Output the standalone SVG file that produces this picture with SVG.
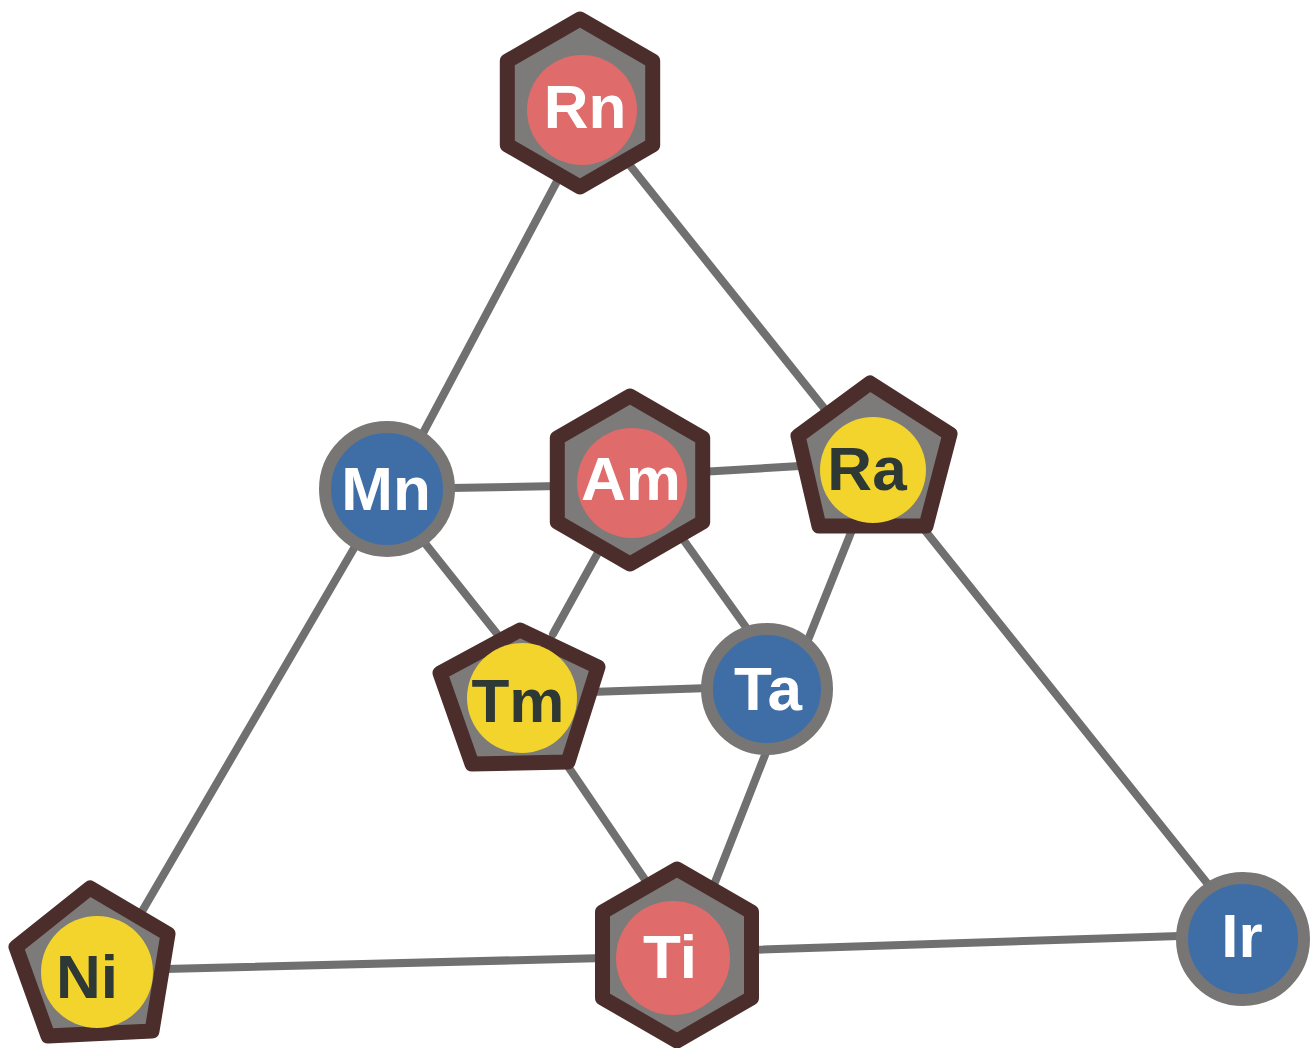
<svg xmlns="http://www.w3.org/2000/svg" width="1311" height="1048" viewBox="0 0 1311 1048">
<style>
.edge{stroke:#707070;stroke-width:8;stroke-linecap:round;fill:none}
.frame{fill:#7c7b79;stroke:#4b2e2b;stroke-width:15;stroke-linejoin:round}
.red{fill:#e06b6b}
.blue{fill:#3f6ea6}
.yellow{fill:#f3d42c}
.ring{stroke:#777674;stroke-width:12}
.lw{font-family:"Liberation Sans",Arial,sans-serif;font-weight:bold;font-size:62px;fill:#ffffff;text-anchor:middle}
.ld{font-family:"Liberation Sans",Arial,sans-serif;font-weight:bold;font-size:62px;fill:#2e3835;text-anchor:middle}
</style>
<rect width="1311" height="1048" fill="#ffffff"/>
<g id="connectors">
<line class="edge" x1="563" y1="170" x2="414" y2="450"/>
<line class="edge" x1="620" y1="153" x2="840" y2="428"/>
<line class="edge" x1="450" y1="488" x2="560" y2="486"/>
<line class="edge" x1="700" y1="472" x2="800" y2="466"/>
<line class="edge" x1="420" y1="537" x2="498" y2="635"/>
<line class="edge" x1="360" y1="538" x2="130" y2="932"/>
<line class="edge" x1="600" y1="549" x2="553" y2="634"/>
<line class="edge" x1="680" y1="535" x2="748" y2="630"/>
<line class="edge" x1="856" y1="520" x2="806" y2="645"/>
<line class="edge" x1="915" y1="518" x2="1215" y2="893"/>
<line class="edge" x1="590" y1="692" x2="710" y2="688"/>
<line class="edge" x1="565" y1="762" x2="648" y2="884"/>
<line class="edge" x1="767" y1="750" x2="708" y2="900"/>
<line class="edge" x1="165" y1="969" x2="605" y2="958"/>
<line class="edge" x1="750" y1="950" x2="1180" y2="936"/>
</g>
<g id="node-Rn">
<polygon class="frame" points="580,19 652.7,61 652.7,145 580,187 507.3,145 507.3,61"/>
<circle class="red" cx="582" cy="110" r="55"/>
<text class="lw" x="585" y="128">Rn</text>
</g>
<g id="node-Mn">
<circle class="blue ring" cx="387" cy="489" r="62"/>
<text class="lw" x="386" y="510">Mn</text>
</g>
<g id="node-Am">
<polygon class="frame" points="630,396 702.7,438 702.7,522 630,564 557.3,522 557.3,438"/>
<circle class="red" cx="632" cy="483" r="55"/>
<text class="lw" x="631" y="500">Am</text>
</g>
<g id="node-Ra">
<polygon class="frame" points="870,383 950,434 926,526 819,526 798,436"/>
<circle class="yellow" cx="873" cy="470" r="53"/>
<text class="ld" x="867" y="490">Ra</text>
</g>
<g id="node-Tm">
<polygon class="frame" points="520,630 598,667 568,762 472,764 440,673"/>
<circle class="yellow" cx="522" cy="698" r="55"/>
<text class="ld" x="518" y="722">Tm</text>
</g>
<g id="node-Ta">
<circle class="blue ring" cx="767" cy="689" r="60"/>
<text class="lw" x="768" y="710">Ta</text>
</g>
<g id="node-Ni">
<polygon class="frame" points="90,888 168,934 152,1031 48,1036 16,947"/>
<circle class="yellow" cx="97" cy="972" r="56"/>
<text class="ld" x="87" y="998">Ni</text>
</g>
<g id="node-Ti">
<polygon class="frame" points="677,869 751.5,912 751.5,998 677,1041 602.5,998 602.5,912"/>
<circle class="red" cx="673" cy="958" r="57"/>
<text class="lw" x="670" y="978">Ti</text>
</g>
<g id="node-Ir">
<circle class="blue ring" cx="1243" cy="939" r="61"/>
<text class="lw" x="1242" y="957">Ir</text>
</g>
</svg>
